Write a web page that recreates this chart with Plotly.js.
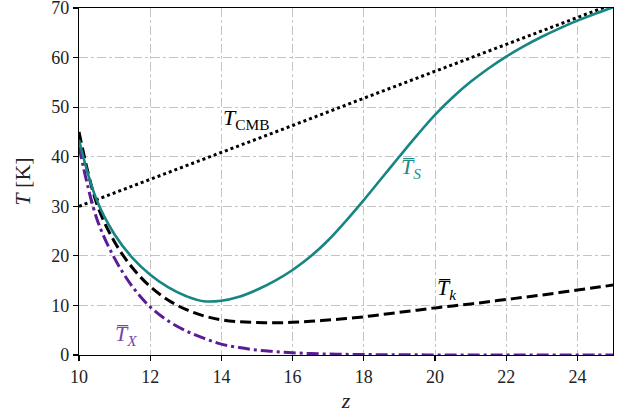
<!DOCTYPE html>
<html>
<head>
<meta charset="utf-8">
<script src="https://cdn.plot.ly/plotly-3.0.1.min.js"></script>
<style>html,body{margin:0;padding:0;background:#fff;}#chart{width:629px;height:418px;}</style>
</head>
<body>
<div id="chart"></div>
<script>
// Redshift grid and temperatures (K)
const zCMB = [10, 12, 14, 16, 18, 20, 22, 24, 25];
const tCMB = [30.0, 35.4, 40.9, 46.3, 51.8, 57.2, 62.7, 68.1, 70.8];

const zGrid = [10, 10.5, 11, 11.5, 12, 12.5, 13, 13.5, 14, 14.5, 15, 15.5, 16, 16.5, 17, 17.5,
               18, 18.5, 19, 19.5, 20, 20.5, 21, 21.5, 22, 22.5, 23, 23.5, 24, 24.5, 25];

const tS = [43.4, 31.2, 24.3, 19.6, 16.2, 13.7, 11.9, 10.85, 10.95, 11.75, 13.15, 14.95, 17.15, 19.85, 23.15, 27.05,
            31.25, 35.65, 40.05, 44.35, 48.45, 52.0, 55.1, 57.8, 60.2, 62.3, 64.2, 65.9, 67.45, 68.85, 70.15];

const tK = [45.0, 30.5, 22.8, 17.6, 13.8, 11.1, 9.2, 7.9, 7.1, 6.7, 6.55, 6.5, 6.6, 6.8, 7.05, 7.35,
            7.7, 8.15, 8.6, 9.05, 9.5, 9.9, 10.3, 10.75, 11.2, 11.65, 12.1, 12.6, 13.1, 13.6, 14.1];

const tX = [42.0, 27.5, 19.5, 13.8, 9.7, 6.9, 4.9, 3.4, 2.2, 1.5, 1.0, 0.7, 0.45, 0.3, 0.2, 0.13,
            0.09, 0.06, 0.04, 0.03, 0.02, 0.015, 0.01, 0.01, 0.01, 0.0, 0.0, 0.0, 0.0, 0.0, 0.0];

const xTicks = [10, 12, 14, 16, 18, 20, 22, 24];
const yTicks = [0, 10, 20, 30, 40, 50, 60, 70];

const labels = [
  {x: 14.0, y: 47.6, text: '<i>T</i><sub>CMB</sub>', color: '#000000'},
  {x: 19.0, y: 37.8, text: '<i>T\u0305</i><sub><i>S</i></sub>', color: '#1e8c88'},
  {x: 20.0, y: 13.4, text: '<i>T\u0305</i><sub><i>k</i></sub>', color: '#000000'},
  {x: 10.95, y: 4.0, text: '<i>T\u0305</i><sub><i>X</i></sub>', color: '#7a45b0'}
];

const FONT = 'Liberation Serif, DejaVu Serif, serif';
const teal = '#178581';
const purple = '#5c1c98';

const traces = [
  {x: zCMB, y: tCMB, mode: 'lines', line: {color: '#000', width: 3, dash: 'dot'}},
  {x: zGrid, y: tK, mode: 'lines', line: {color: '#000', width: 3, dash: '11px,5px', shape: 'spline', smoothing: 1}},
  {x: zGrid, y: tX, mode: 'lines', line: {color: purple, width: 3, dash: '12px,4px,3px,4px', shape: 'spline', smoothing: 1}},
  {x: zGrid, y: tS, mode: 'lines', line: {color: teal, width: 2.6, shape: 'spline', smoothing: 1.15}}
];

const axisCommon = {
  showline: true, mirror: true, linecolor: '#000', linewidth: 1.2,
  ticks: 'outside', ticklen: 5, tickwidth: 1.2, tickcolor: '#000',
  showgrid: true, gridcolor: '#c4c4c4', gridwidth: 1, griddash: 'dashdot',
  zeroline: false, ticklabeloverflow: 'allow',
  tickfont: {family: FONT, size: 18, color: '#222'}
};

const layout = {
  width: 629, height: 418,
  margin: {l: 79, r: 16, t: 8, b: 63},
  paper_bgcolor: '#fff', plot_bgcolor: '#fff',
  showlegend: false,
  xaxis: Object.assign({}, axisCommon, {
    range: [10, 25], tickvals: xTicks, ticktext: xTicks.map(String),
    title: {text: '<i>z</i>', font: {family: FONT, size: 22, color: '#222'}, standoff: 6}
  }),
  yaxis: Object.assign({}, axisCommon, {
    range: [0, 70], tickvals: yTicks, ticktext: yTicks.map(String),
    title: {text: '<i>T</i> [K]', font: {family: FONT, size: 22, color: '#222'}, standoff: 14}
  }),
  annotations: labels.map(l => ({
    x: l.x, y: l.y, xref: 'x', yref: 'y', text: l.text, showarrow: false,
    xanchor: 'left', yanchor: 'middle',
    font: {family: FONT, size: 22, color: l.color}
  }))
};

Plotly.newPlot('chart', traces, layout, {staticPlot: true, displayModeBar: false});
</script>
</body>
</html>
